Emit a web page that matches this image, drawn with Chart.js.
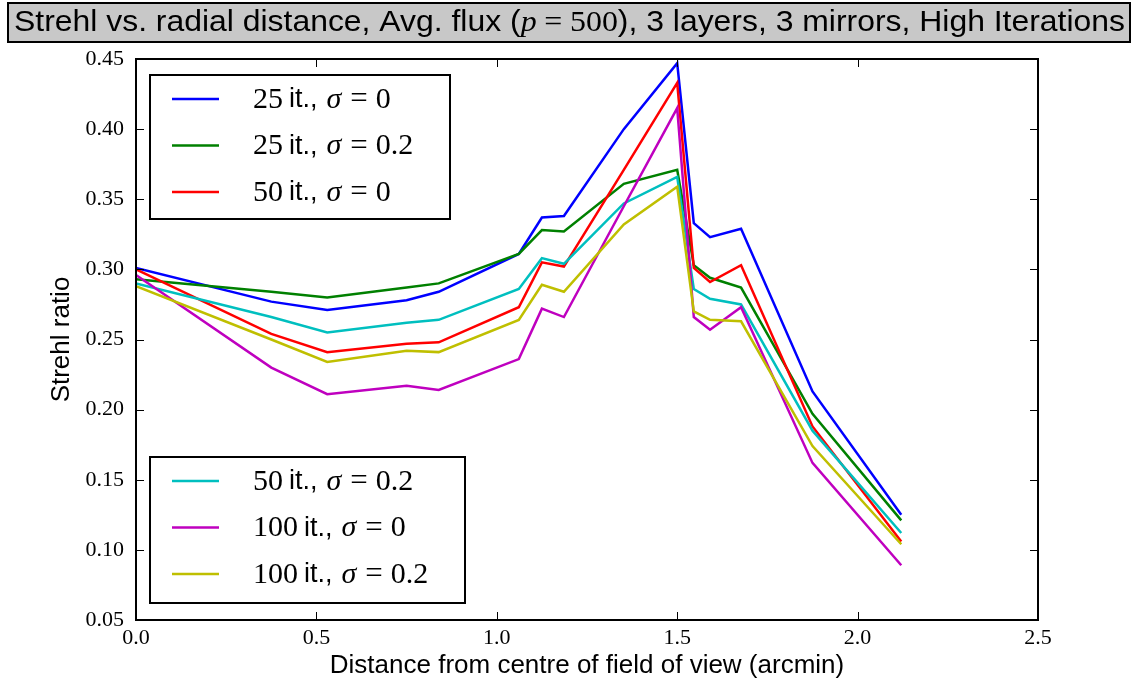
<!DOCTYPE html>
<html>
<head>
<meta charset="utf-8">
<script src="https://cdn.jsdelivr.net/npm/chart.js@4"></script>
<style>
  html, body { margin: 0; padding: 0; background: #fff; }
  #wrap { width: 1140px; height: 681px; }
</style>
</head>
<body>
<div id="wrap"><canvas id="strehlChart" width="1140" height="681"></canvas></div>
<script>
// distancia radial (arcmin) dos pontos avaliados
const distance = [0, 0.375, 0.53, 0.75, 0.839, 1.061, 1.125, 1.186, 1.352, 1.5, 1.546, 1.591, 1.677, 1.875, 2.121];

const iterations = [25, 25, 50, 50, 100, 100];
const sigmas = ['0', '0.2', '0', '0.2', '0', '0.2'];
const colors = ['#0000ff', '#008000', '#ff0000', '#00bfbf', '#bf00bf', '#bfbf00'];

const strehl25s0 = [0.301, 0.277, 0.271, 0.278, 0.284, 0.311, 0.337, 0.338, 0.400, 0.447, 0.333, 0.323, 0.329, 0.213, 0.125];
const strehl25s2 = [0.293, 0.284, 0.280, 0.287, 0.290, 0.311, 0.328, 0.327, 0.361, 0.371, 0.303, 0.294, 0.287, 0.197, 0.121];
const strehl50s0 = [0.300, 0.254, 0.241, 0.247, 0.248, 0.273, 0.305, 0.302, 0.371, 0.433, 0.301, 0.291, 0.303, 0.188, 0.106];
const strehl50s2 = [0.290, 0.266, 0.255, 0.262, 0.264, 0.286, 0.308, 0.304, 0.347, 0.366, 0.286, 0.279, 0.275, 0.185, 0.112];
const strehl100s0 = [0.296, 0.230, 0.211, 0.217, 0.214, 0.236, 0.272, 0.266, 0.345, 0.415, 0.266, 0.257, 0.273, 0.162, 0.089];
const strehl100s2 = [0.288, 0.250, 0.234, 0.242, 0.241, 0.264, 0.289, 0.284, 0.332, 0.359, 0.270, 0.264, 0.263, 0.174, 0.104];

const series = [strehl25s0, strehl25s2, strehl50s0, strehl50s2, strehl100s0, strehl100s2];

const SANS = '"Liberation Sans", Arial, sans-serif';
const SERIF = '"Liberation Serif", "DejaVu Serif", serif';

// desenha uma sequencia de trechos com fontes diferentes (gap = espaco extra antes do trecho)
function drawParts(ctx, parts, x, y) {
  let cx = x;
  ctx.textBaseline = 'middle';
  ctx.textAlign = 'left';
  parts.forEach(p => {
    cx += p.gap || 0;
    ctx.font = p.font;
    ctx.fillText(p.text, cx, y);
    cx += ctx.measureText(p.text).width;
  });
}

function partsWidth(ctx, parts) {
  let total = 0;
  parts.forEach(p => { ctx.font = p.font; total += (p.gap || 0) + ctx.measureText(p.text).width; });
  return total;
}

const framePlugin = {
  id: 'frame',
  afterDraw(chart) {
    const ctx = chart.ctx;
    const a = chart.chartArea;
    const xs = chart.scales.x, ys = chart.scales.y;
    ctx.save();

    // ticks para dentro nos quatro lados
    ctx.strokeStyle = '#000';
    ctx.lineWidth = 1;
    ctx.beginPath();
    xs.ticks.forEach(t => {
      const px = Math.round(xs.getPixelForValue(t.value)) + 0.5;
      ctx.moveTo(px, a.bottom); ctx.lineTo(px, a.bottom - 8);
      ctx.moveTo(px, a.top); ctx.lineTo(px, a.top + 8);
    });
    ys.ticks.forEach(t => {
      const py = Math.round(ys.getPixelForValue(t.value)) + 0.5;
      ctx.moveTo(a.left, py); ctx.lineTo(a.left + 8, py);
      ctx.moveTo(a.right, py); ctx.lineTo(a.right - 8, py);
    });
    ctx.stroke();

    ctx.lineWidth = 2;
    ctx.strokeRect(a.left, a.top, a.right - a.left, a.bottom - a.top);

    // titulo com caixa cinza
    ctx.fillStyle = '#c8c8c8';
    ctx.fillRect(8, 3, 1122, 39);
    ctx.lineWidth = 2;
    ctx.strokeRect(8, 3, 1122, 39);
    ctx.fillStyle = '#000';
    const titleParts = [
      { text: 'Strehl vs. radial distance, Avg. flux (', font: '29px ' + SANS },
      { text: 'p', font: 'italic 29px ' + SERIF },
      { text: '=', font: '29px ' + SERIF, gap: 7 },
      { text: '500', font: '29px ' + SERIF, gap: 7 },
      { text: '), 3 layers, 3 mirrors, High Iterations', font: '29px ' + SANS }
    ];
    const tw = partsWidth(ctx, titleParts);
    ctx.save();
    ctx.translate(14, 23);
    ctx.scale(1111 / tw, 1);
    drawParts(ctx, titleParts, 0, 0);
    ctx.restore();

    // legendas em duas caixas
    const boxes = [
      { idx: [0, 1, 2], x: 150, y: 75, w: 300, h: 144 },
      { idx: [3, 4, 5], x: 150, y: 457, w: 315, h: 146 }
    ];
    boxes.forEach(b => {
      ctx.fillStyle = '#fff';
      ctx.fillRect(b.x, b.y, b.w, b.h);
      ctx.strokeStyle = '#000';
      ctx.lineWidth = 2;
      ctx.strokeRect(b.x, b.y, b.w, b.h);
      b.idx.forEach((i, k) => {
        const ds = chart.data.datasets[i];
        const ly = b.y + 24 + k * 46.5;
        ctx.strokeStyle = ds.borderColor;
        ctx.lineWidth = 2.5;
        ctx.beginPath();
        ctx.moveTo(172, ly); ctx.lineTo(219, ly);
        ctx.stroke();
        ctx.fillStyle = '#000';
        drawParts(ctx, [
          { text: String(iterations[i]), font: '30px ' + SERIF },
          { text: 'it.,', font: '27px ' + SANS, gap: 6 },
          { text: 'σ', font: 'italic 30px ' + SERIF, gap: 9 },
          { text: '=', font: '31px ' + SERIF, gap: 9 },
          { text: sigmas[i], font: '30px ' + SERIF, gap: 8 }
        ], 253, ly + 1);
      });
    });
    ctx.restore();
  }
};

const datasets = series.map((values, i) => ({
  label: `${iterations[i]} it., σ = ${sigmas[i]}`,
  data: distance.map((d, j) => ({ x: d, y: values[j] })),
  borderColor: colors[i],
  backgroundColor: colors[i],
  borderWidth: 2.5,
  pointRadius: 0,
  tension: 0,
  fill: false,
  order: series.length - i
}));

new Chart(document.getElementById('strehlChart').getContext('2d'), {
  type: 'line',
  data: { datasets },
  options: {
    responsive: false,
    animation: false,
    layout: { padding: { top: 59, right: 102, left: 0, bottom: 0 } },
    plugins: { legend: { display: false }, tooltip: { enabled: false } },
    scales: {
      x: {
        type: 'linear',
        min: 0, max: 2.5,
        afterFit(scale) { scale.height = 61; },
        grid: { display: false, drawTicks: false },
        border: { display: false },
        ticks: {
          stepSize: 0.5,
          padding: 5,
          color: '#000',
          font: { family: SERIF, size: 22 },
          callback: v => v.toFixed(1)
        },
        title: {
          display: true,
          text: 'Distance from centre of field of view (arcmin)',
          color: '#000',
          font: { family: SANS, size: 26 },
          padding: { top: 3, bottom: 0 }
        }
      },
      y: {
        min: 0.05, max: 0.45,
        afterFit(scale) { scale.width = 136; },
        grid: { display: false, drawTicks: false },
        border: { display: false },
        ticks: {
          stepSize: 0.05,
          padding: 12,
          color: '#000',
          font: { family: SERIF, size: 22 },
          callback: v => v.toFixed(2)
        },
        title: {
          display: true,
          text: 'Strehl ratio',
          color: '#000',
          font: { family: SANS, size: 26 },
          padding: { top: 46, bottom: 0 }
        }
      }
    }
  },
  plugins: [framePlugin]
});
</script>
</body>
</html>
